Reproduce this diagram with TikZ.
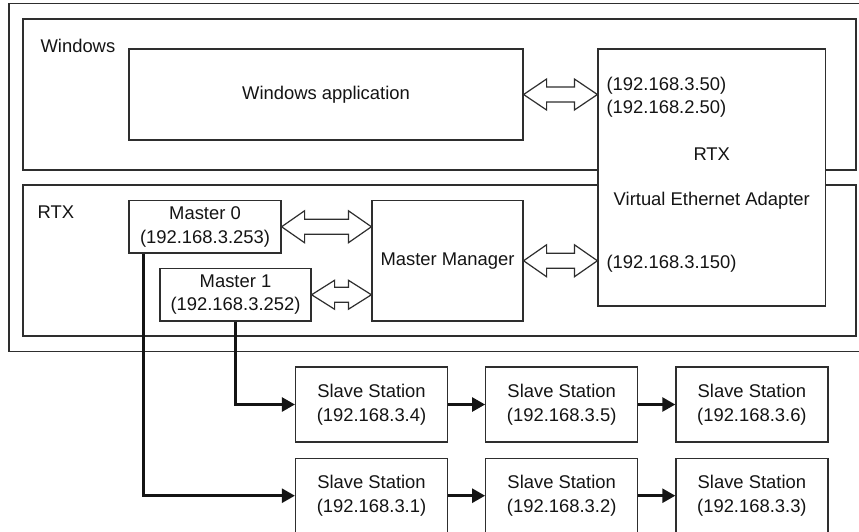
\documentclass[tikz,border=0pt]{standalone}
\usepackage{fontspec}
\setmainfont{Liberation Sans}
\usetikzlibrary{positioning,arrows.meta,calc}
\definecolor{ink}{HTML}{2E2E2E}
% hollow two-way arrow from the east side of #2 to the west side of #3
\newcommand{\twoway}[3][15.5]{%
  \draw[twoway] let \p1=(#2.east), \p2=(#3.west) in
    (\x1,\y1) -- (\x1+23pt,\y1+#1pt) -- (\x1+23pt,\y1+7.5pt)
    -- (\x2-23pt,\y1+7.5pt) -- (\x2-23pt,\y1+#1pt) -- (\x2,\y1)
    -- (\x2-23pt,\y1-#1pt) -- (\x2-23pt,\y1-7.5pt)
    -- (\x1+23pt,\y1-7.5pt) -- (\x1+23pt,\y1-#1pt) -- cycle;}

\begin{document}
\begin{tikzpicture}[x=1pt,y=-1pt,line width=1.2pt,
  font=\fontsize{18.4}{23.5}\selectfont,node distance=37pt,
  box/.style={draw=ink,fill=white,text=black!92,align=center,inner sep=0pt},
  tag/.style={inner sep=0pt,text=black!92},
  twoway/.style={draw=ink,fill=white,line join=miter},
  link/.style={draw=black!92,line width=2.6pt,-{Triangle[length=13pt,width=14pt]}},
  slave/.style={box,minimum width=152pt,minimum height=75pt}]
  \useasboundingbox (0,0) rectangle (859,531);
  % outer frame
  \draw[ink] (859,3.5) -| (9,351.5) -- (859,351.5);
  % Windows side
  \node (win) [box,minimum width=833pt,minimum height=151pt] at (439.5,94.5) {};
  \node (winlbl) [tag,anchor=base west] at (40,52) {Windows};
  \node (app) [box,minimum width=394pt,minimum height=91pt] at (326,94.5) {Windows application};
  % RTX side
  \node (rtx) [box,minimum width=833pt,minimum height=151pt] at (439.5,260.5) {};
  \node (rtxlbl) [tag,anchor=base west] at (37,218) {RTX};
  \node (m0) [box,minimum width=152pt,minimum height=52.5pt] at (205,226.75) {Master 0\\(192.168.3.253)};
  \node (m1) [box,minimum width=151pt,minimum height=52.5pt] at (235.5,294.75) {Master 1\\(192.168.3.252)};
  \node (mm) [box,minimum width=151pt,minimum height=120.5pt] at (447.5,260.75) {Master Manager};
  % adapter, over both frames
  \node (vea) [box,minimum width=227.5pt,minimum height=257pt] at (711.75,177.5) {};
  \node (ip50) [tag,anchor=base west] at (606,90) {(192.168.3.50)};
  \node (ip250) [tag,anchor=base west] at (606,113) {(192.168.2.50)};
  \node (vrtx) [tag,anchor=base] at (711.75,160) {RTX};
  \node (vname) [tag,anchor=base] at (711.75,205) {Virtual Ethernet Adapter};
  \node (ip150) [tag,anchor=base west] at (606,268) {(192.168.3.150)};
  % two-way links
  \twoway{app}{vea}
  \twoway[16]{m0}{mm}
  \twoway[14.5]{m1}{mm}
  \twoway[16]{mm}{vea}
  % slave stations
  \node (s34) [slave] at (371.5,404.5) {Slave Station\\(192.168.3.4)};
  \node (s35) [slave,right=of s34] {Slave Station\\(192.168.3.5)};
  \node (s36) [slave,right=of s35] {Slave Station\\(192.168.3.6)};
  \node (s31) [slave,below=15pt of s34] {Slave Station\\(192.168.3.1)};
  \node (s32) [slave,right=of s31] {Slave Station\\(192.168.3.2)};
  \node (s33) [slave,right=of s32] {Slave Station\\(192.168.3.3)};
  % network lines
  \draw[link] (m1.south) |- (s34.west);
  \draw[link] (m0.south west) ++(15,0) |- (s31.west);
  \draw[link] (s34) -- (s35);
  \draw[link] (s35) -- (s36);
  \draw[link] (s31) -- (s32);
  \draw[link] (s32) -- (s33);
\end{tikzpicture}
\end{document}
